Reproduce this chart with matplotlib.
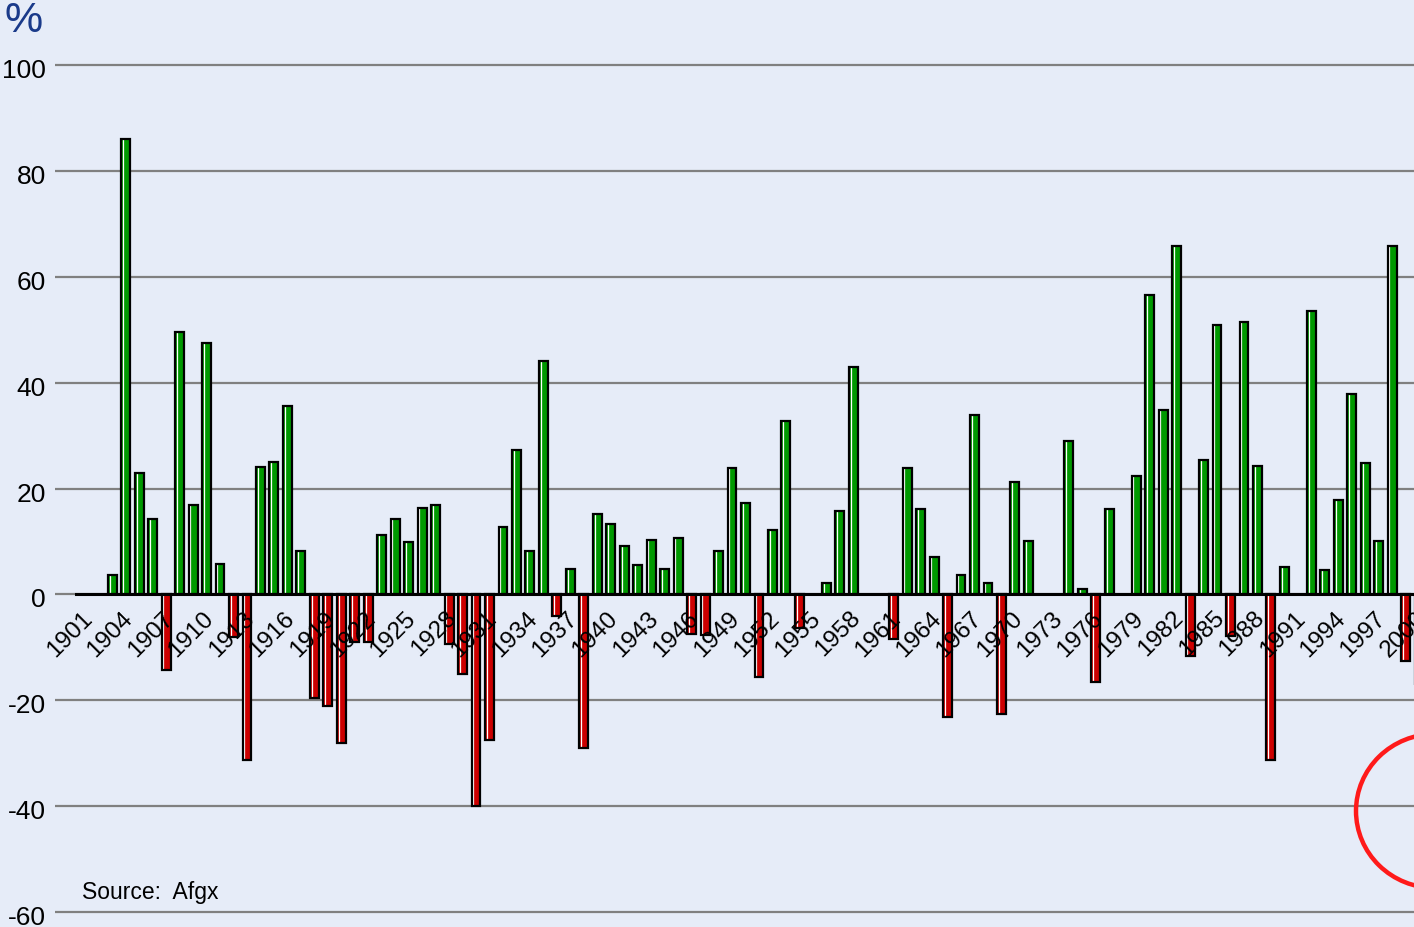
import matplotlib.pyplot as plt
import matplotlib.transforms as mtransforms
from matplotlib.patches import Ellipse
import numpy as np

plt.rcParams['font.family'] = ['Liberation Sans', 'DejaVu Sans']

# yearly change, %  (0 = no bar drawn)
years = list(range(1901, 2001))
returns = [
    0, 0, 3.7, 86, 23, 14.3, -14.2, 49.5, 16.8, 47.5,          # 1901-1910
    5.7, -8, -31.2, 24, 25, 35.5, 8.2, -19.6, -21, -28,        # 1911-1920
    -9, -9, 11.3, 14.3, 9.8, 16.3, 16.8, -9.4, -15, -40,       # 1921-1930
    -27.6, 12.8, 27.3, 8.2, 44, -4, 4.7, -29, 15.2, 13.2,      # 1931-1940
    9.1, 5.6, 10.2, 4.7, 10.7, -7.5, -7.6, 8.2, 23.8, 17.2,    # 1941-1950
    -15.6, 12.2, 32.8, -6.4, 0, 2.2, 15.8, 43, 0, 0,           # 1951-1960
    -8.4, 23.8, 16.2, 7.1, -23.2, 3.6, 33.8, 2.1, -22.6, 21.2, # 1961-1970
    10.1, 0, 0, 28.9, 1.0, -16.5, 16.2, 0, 22.3, 56.6,         # 1971-1980
    34.8, 65.8, -11.7, 25.3, 50.9, -7.9, 51.4, 24.3, -31.2, 5.2,  # 1981-1990
    0, 53.5, 4.6, 17.8, 37.9, 24.8, 10.1, 65.8, -12.6, -17.2,  # 1991-2000
]
tick_years = years[::3]
y_ticks = [-60, -40, -20, 0, 20, 40, 60, 80, 100]

BG = '#E6ECF8'
GREEN = '#009900'
RED = '#CC0000'

W, H = 1414, 927
fig = plt.figure(figsize=(W / 100, H / 100), dpi=100)
fig.set_facecolor(BG)
ax = fig.add_axes([55 / W, 1 - 912 / H, (W - 55) / W, (912 - 65) / H])
ax.set_facecolor(BG)
ax.set_xlim(1898.75, 1999.62)
ax.set_ylim(-60, 100)

# gridlines
ax.hlines(y_ticks, 0, 1, transform=ax.get_yaxis_transform(), colors='#808080',
          lw=1.6, zorder=0, clip_on=False)

x = np.array([yr for yr, v in zip(years, returns) if v != 0])
v = np.array([v for v in returns if v != 0])
cols = [GREEN if val > 0 else RED for val in v]
bw = 0.66

ax.bar(x, v, width=bw, color=cols, edgecolor='none', zorder=2)
ax.vlines(x - bw / 2 + 0.13, 0, v, colors='white', lw=0.9, zorder=2.1)
ax.bar(x, v, width=bw, fill=False, edgecolor='black', lw=1.6, zorder=2.2)

# axes styling
for s in ['top', 'right', 'left']:
    ax.spines[s].set_visible(False)
ax.spines['bottom'].set_position(('data', 0))
ax.spines['bottom'].set_bounds(1900.3, 2001)
ax.spines['bottom'].set_linewidth(2.2)
ax.spines['bottom'].set_zorder(3)
ax.set_xticks([])
ax.set_yticks([])

# year labels on the zero line
xoff = mtransforms.ScaledTranslation(-4 / 100, -13 / 100, fig.dpi_scale_trans)
for yr in tick_years:
    ax.text(yr, 0, str(yr), transform=ax.transData + xoff, rotation=45,
            rotation_mode='anchor', ha='right', va='top', fontsize=17.5,
            zorder=4, clip_on=False)

yoff = mtransforms.ScaledTranslation(-9 / 100, -6 / 100, fig.dpi_scale_trans)
for t in y_ticks:
    ax.text(0, t, str(t), transform=ax.get_yaxis_transform() + yoff,
            ha='right', va='center', fontsize=19, clip_on=False)

fig.text(4 / W, 1 - 21 / H, '%', fontsize=31, color='#1A3A8A', va='center', ha='left')
fig.text(82 / W, 1 - 893 / H, 'Source:  Afgx', fontsize=16.5, va='center', ha='left')

ring = Ellipse((1435 / W, 1 - 811 / H), 2 * 79 / W, 2 * 77 / H,
               transform=fig.transFigure, fill=False, edgecolor='#FF1A1A', lw=3.2)
fig.add_artist(ring)

fig.savefig('out.png', dpi=100, facecolor=BG)
